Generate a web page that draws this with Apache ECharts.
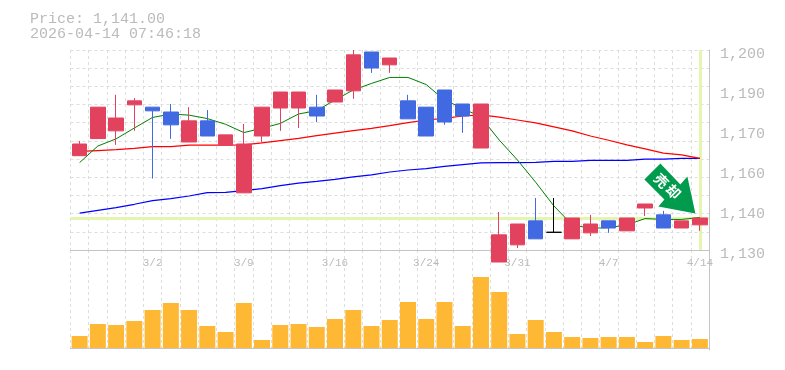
<!DOCTYPE html>
<html>
<head>
<meta charset="utf-8">
<style>
  html, body { margin: 0; padding: 0; background: #fff; }
  #chart { width: 785px; height: 370px; }
</style>
</head>
<body>
<div id="chart"></div>
<script src="https://cdn.jsdelivr.net/npm/echarts@6/dist/echarts.min.js"></script>
<script>
const categories = ['2/24','2/25','2/26','2/27','3/2','3/3','3/4','3/5','3/6','3/9','3/10','3/11','3/12','3/13','3/16','3/17','3/18','3/19','3/23','3/24','3/25','3/26','3/27','3/30','3/31','4/1','4/2','4/3','4/6','4/7','4/8','4/9','4/10','4/13','4/14'];
const opens  = [1163,1169,1171.7,1180.8,1180,1178.3,1167.8,1175.2,1166.6,1150,1169.9,1179.7,1179.7,1180,1181.8,1185.7,1199.3,1194.8,1182.2,1180,1186,1181.1,1165.7,1125.8,1131.8,1140.2,1136.2,1133.9,1136,1140.2,1136.7,1144.7,1142.3,1137.7,1138.8];
const closes = [1167.1,1180,1176.2,1182.2,1178.7,1173.8,1175.2,1169.9,1170.3,1167.1,1180,1185.3,1185.3,1176.9,1186,1198.3,1193.7,1197.2,1175.9,1169.9,1174.8,1176.9,1181.1,1135.3,1139.1,1133.9,1136.2,1141.2,1139.1,1137.7,1141.2,1146.1,1137.7,1140.2,1141.2];
const lows   = [1163,1169,1166.8,1171.7,1155,1168.9,1167.8,1169.9,1166.6,1150,1167.5,1171.7,1172.7,1174.8,1181.8,1182.9,1192,1192,1175.9,1169.9,1173.8,1171,1165.7,1125.8,1130.7,1133.9,1136.2,1133.9,1134.9,1136,1136.7,1141.9,1137.7,1137.7,1136.7];
const highs  = [1168.2,1180,1184.3,1183.2,1180,1181.1,1180,1179,1170.3,1174.1,1180,1185.3,1185.3,1184.3,1186,1200,1199.3,1197.2,1184.3,1180,1186,1181.1,1181.1,1143.3,1139.1,1148.2,1148.2,1141.2,1142.3,1140.2,1141.2,1146.1,1143.7,1140.2,1141.2];
const ma5    = [1160.6,1166.4,1168.9,1172.7,1176.4,1177.6,1177.2,1176,1174,1171.1,1172.6,1174.3,1177.6,1178.8,1182.5,1186,1188.3,1190.4,1190.4,1187.9,1182.5,1179.6,1176.5,1168.5,1161.5,1153.7,1145.4,1138.8,1137.6,1137.8,1138.8,1141,1140.7,1140.7,1141.4];
const ma25   = [1164.5,1164.8,1165.1,1165.6,1166.2,1166.2,1166.7,1166.7,1166.7,1166.8,1167.5,1168.3,1169.1,1170,1170.9,1171.8,1172.6,1173.5,1174.6,1175.5,1176.1,1176.9,1177.3,1176.5,1175.5,1174.5,1173.1,1171.7,1169.9,1168.4,1166.8,1165.4,1163.9,1163.3,1162.1];
const ma75   = [1142.9,1143.9,1144.8,1146,1147.3,1148,1148.9,1150.1,1150.2,1150.8,1151.5,1152.5,1153.4,1154,1154.7,1155.6,1156.3,1157.3,1158,1158.5,1159.3,1159.9,1160.5,1160.6,1160.6,1160.7,1161,1161,1161.4,1161.4,1161.4,1161.8,1161.8,1162.1,1162.1];
const volumes = [12,24,23,27,38,45,38,22,16,45,8,23,24,21,29,38,22,28,46,29,46,22,71,56,14,28,16,11,10,11,11,6,12,8,9];
const priceTicks = [1130,1144,1158,1172,1186,1200];
const priceLabels = ['1,130','1,140','1,160','1,170','1,190','1,200'];
const currentPrice = 1141;
const headerLines = ['Price: 1,141.00','2026-04-14 07:46:18'];
const arrowText = ['売','却'];

const MonoFont = '"Liberation Mono", monospace';
const TextColor = '#bbbbbb';
const GridColor = '#dddddd';
const BorderColor = '#c4c4c4';
const UpColor = '#e3425f';
const DownColor = '#4169e1';
const DashLine = { color: GridColor, width: 1, type: [3, 3] };

var candleData = [];
for (var i = 0; i < categories.length; i++) {
  var item = { value: [opens[i], closes[i], lows[i], highs[i]] };
  // 寄引同事 is drawn in black
  if (opens[i] == closes[i]) {
    item.itemStyle = { color: '#000000', color0: '#000000', borderColor: '#000000', borderColor0: '#000000' };
  }
  candleData.push(item);
}

function maSeries(name, data, color, width) {
  return {
    name: name,
    type: 'line',
    data: data,
    symbol: 'none',
    z: 2,
    xAxisIndex: 0,
    yAxisIndex: 0,
    lineStyle: { color: color, width: width }
  };
}

const chart = echarts.init(document.getElementById('chart'), null, { width: 785, height: 370 });

chart.setOption({
  animation: false,
  backgroundColor: '#ffffff',
  title: {
    left: 30,
    top: 12,
    padding: 0,
    text: headerLines.join('\n'),
    textStyle: { fontFamily: MonoFont, fontSize: 15, fontWeight: 'normal', color: TextColor, lineHeight: 15 }
  },
  grid: [
    { left: 70.5, top: 50, width: 638.5, height: 200 },
    { left: 70.5, top: 250, width: 638.5, height: 100 }
  ],
  xAxis: [
    {
      type: 'category',
      gridIndex: 0,
      data: categories,
      axisLine: { lineStyle: { color: BorderColor, width: 1 } },
      axisTick: { show: false },
      axisLabel: {
        interval: function (index) { return index % 5 == 4; },
        fontFamily: MonoFont,
        fontSize: 11,
        color: TextColor,
        margin: 8,
        showMaxLabel: true
      },
      splitLine: { show: true, interval: 0, lineStyle: DashLine }
    },
    {
      type: 'category',
      gridIndex: 1,
      data: categories,
      axisLine: { lineStyle: { color: BorderColor, width: 1 } },
      axisTick: { show: false },
      axisLabel: { show: false },
      splitLine: { show: true, interval: 0, lineStyle: DashLine }
    }
  ],
  yAxis: [
    {
      type: 'value',
      gridIndex: 0,
      position: 'right',
      min: 1130,
      max: 1200,
      axisLine: { show: true, lineStyle: { color: BorderColor, width: 1 } },
      axisTick: { show: false },
      splitLine: { show: false },
      axisLabel: {
        customValues: priceTicks,
        formatter: function (v) { return priceLabels[priceTicks.indexOf(v)]; },
        fontFamily: MonoFont,
        fontSize: 15,
        color: TextColor,
        margin: 11,
        verticalAlign: 'top',
        lineHeight: 8
      }
    },
    {
      // 11 division background lattice, independent of the price ticks
      type: 'value',
      gridIndex: 0,
      position: 'left',
      min: 0,
      max: 11,
      interval: 1,
      axisLine: { show: false },
      axisTick: { show: false },
      axisLabel: { show: false },
      splitLine: { show: true, lineStyle: DashLine }
    },
    {
      type: 'value',
      gridIndex: 1,
      position: 'right',
      min: -2,
      max: 98,
      axisLine: { show: true, onZero: false, lineStyle: { color: BorderColor, width: 1 } },
      axisTick: { show: false },
      axisLabel: { show: false },
      splitLine: { show: false }
    }
  ],
  series: [
    {
      name: 'current',
      type: 'line',
      data: [],
      xAxisIndex: 0,
      yAxisIndex: 0,
      z: 1,
      markLine: {
        silent: true,
        animation: false,
        z: 1,
        symbol: 'none',
        label: { show: false },
        lineStyle: { color: '#e4f5b0', width: 3, type: 'solid' },
        data: [{ yAxis: currentPrice }, { xAxis: categories.length - 1 }]
      }
    },
    maSeries('ma75', ma75, '#0000ff', 1.2),
    maSeries('ma25', ma25, '#ff0000', 1.2),
    maSeries('ma5', ma5, '#008000', 1),
    {
      name: 'price',
      type: 'candlestick',
      data: candleData,
      xAxisIndex: 0,
      yAxisIndex: 0,
      z: 3,
      clip: false,
      barWidth: 15,
      itemStyle: {
        color: UpColor,
        color0: DownColor,
        borderColor: UpColor,
        borderColor0: DownColor,
        borderWidth: 1
      }
    },
    {
      name: 'volume',
      type: 'bar',
      data: volumes,
      xAxisIndex: 1,
      yAxisIndex: 2,
      barWidth: 16,
      itemStyle: { color: '#ffb833' }
    }
  ]
});

// signal arrow, hung off the last candle
var tip = chart.convertToPixel({ xAxisIndex: 0, yAxisIndex: 0 }, [categories.length - 1, currentPrice]);
var tipX = tip[0] - 4.5;
var tipY = tip[1] - 5;
chart.setOption({
  graphic: [
    {
      type: 'polygon',
      z: 10,
      shape: {
        points: [
          [tipX - 35, tipY - 50],
          [tipX - 51, tipY - 34],
          [tipX - 31, tipY - 14],
          [tipX - 37, tipY - 7],
          [tipX, tipY],
          [tipX - 8, tipY - 37],
          [tipX - 15, tipY - 29]
        ]
      },
      style: { fill: '#009b4c' }
    },
    {
      type: 'text',
      z: 11,
      x: tipX - 34,
      y: tipY - 33,
      rotation: -Math.PI / 4,
      style: { text: arrowText[0], fill: '#ffffff', font: 'bold 14px "Noto Sans CJK JP"', align: 'center', verticalAlign: 'middle' }
    },
    {
      type: 'text',
      z: 11,
      x: tipX - 22,
      y: tipY - 22,
      rotation: -Math.PI / 4,
      style: { text: arrowText[1], fill: '#ffffff', font: 'bold 14px "Noto Sans CJK JP"', align: 'center', verticalAlign: 'middle' }
    }
  ]
});
</script>
</body>
</html>
